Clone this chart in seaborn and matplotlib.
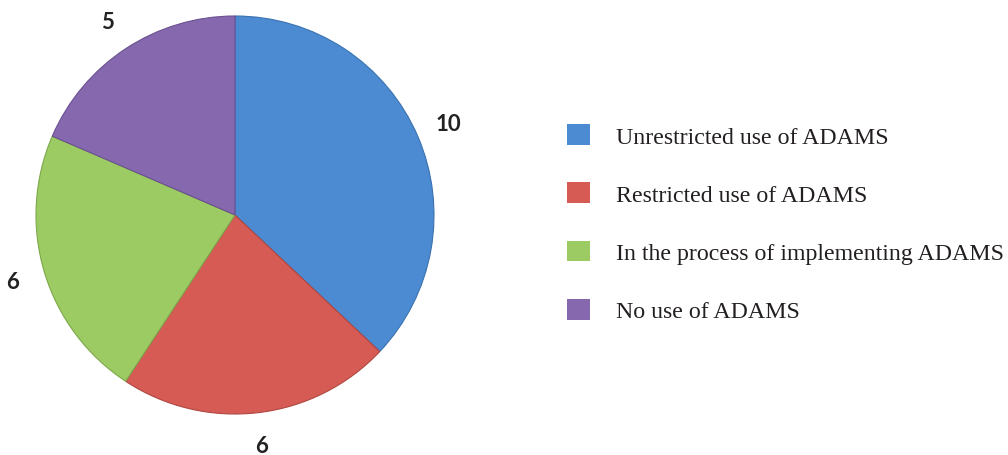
import matplotlib
matplotlib.use("Agg")
import matplotlib.pyplot as plt
import matplotlib.patches as mpatches
import seaborn as sns

categories = [
    "Unrestricted use of ADAMS",
    "Restricted use of ADAMS",
    "In the process of implementing ADAMS",
    "No use of ADAMS",
]
counts = [10, 6, 6, 5]
colors = ["#4C8BD2", "#D65B55", "#9DCB63", "#8668AE"]
edges = ["#3A72B0", "#B04640", "#7DA84A", "#6A5090"]

sns.set_theme(style="white")
total = sum(counts)

fig = plt.figure(figsize=(10.08, 4.56), dpi=100)
# pie axes: centre ~(235, 216) px, radius ~199 px
r_px = 199
side = 2.5 * r_px
cx, cy = 235, 456 - 216
ax = fig.add_axes([(cx - side / 2) / 1008, (cy - side / 2) / 456, side / 1008, side / 456])

wedges, texts, autotexts = ax.pie(
    counts,
    colors=colors,
    startangle=90,
    counterclock=False,
    autopct=lambda p: f"{round(p * total / 100)}",
    pctdistance=1.165,
    wedgeprops=dict(linewidth=0.8),
    textprops=dict(fontsize=16, fontweight="bold", color="#222222", family=["Lato", "DejaVu Sans"]),
)
for w, e in zip(wedges, edges):
    w.set_edgecolor(e)
ax.set_xlim(-1.25, 1.25)
ax.set_ylim(-1.25, 1.25)
ax.set_aspect("equal")

handles = [mpatches.Patch(facecolor=c, edgecolor="none") for c in colors]
fig.legend(
    handles,
    categories,
    loc="center left",
    bbox_to_anchor=(0.553, 0.508),
    frameon=False,
    borderaxespad=0,
    handlelength=0.96,
    handleheight=0.96,
    handletextpad=1.09,
    labelspacing=1.45,
    prop=dict(family="Liberation Serif", size=17.2),
    labelcolor="#231f20",
)

fig.savefig("out.png", dpi=100)
